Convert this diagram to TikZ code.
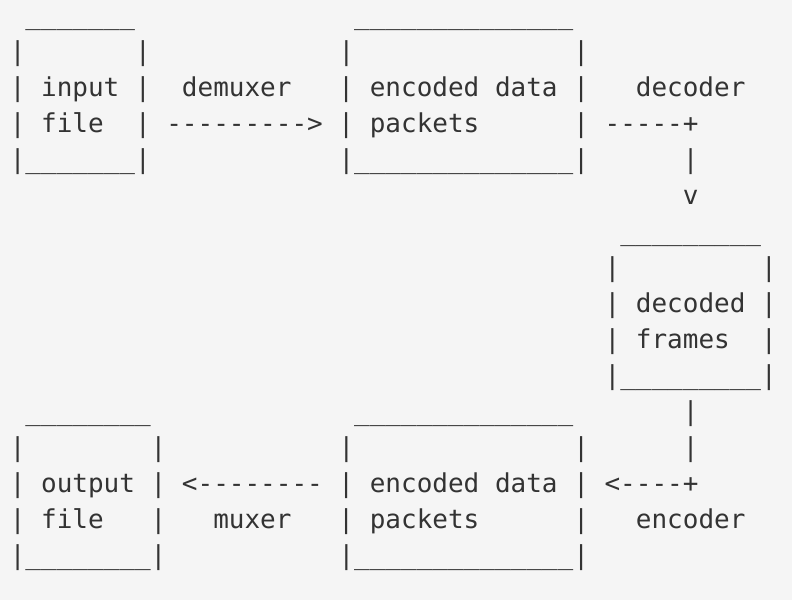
\documentclass[tikz,border=0pt]{standalone}
\usepackage{fontspec}
\newfontfamily\monofont{DejaVu Sans Mono}
\definecolor{bg}{HTML}{F5F5F5}
\definecolor{ink}{HTML}{333333}
\newcommand\sk[1]{\hspace*{#1\fontcharwd\font`x}}
\newcommand\us[1]{\foreach\i in {1,...,#1}{\_}}
\newcommand\dsh[1]{\foreach\i in {1,...,#1}{-}}
\tikzset{
  asciiline/.style={anchor=base west, inner sep=0pt, outer sep=0pt, text=ink,
    font=\monofont\fontsize{26pt}{36pt}\selectfont}
}
\begin{document}
\begin{tikzpicture}
\fill[bg] (0pt,0pt) rectangle (792pt,-600pt);
\useasboundingbox (0pt,0pt) rectangle (792pt,-600pt);
\node[asciiline] (l0)  at (9.8pt,-24pt)  {\sk{1}\us{7}\sk{14}\us{14}};
\node[asciiline] (l1)  at (9.8pt,-60pt)  {|\sk{7}|\sk{12}|\sk{14}|};
\node[asciiline] (l2)  at (9.8pt,-96pt)  {|~input~|~~demuxer~~~|~encoded~data~|~~~decoder};
\node[asciiline] (l3)  at (9.8pt,-132pt) {|~file~~|~\dsh{9}>~|~packets\sk{6}|~\dsh{5}+};
\node[asciiline] (l4)  at (9.8pt,-168pt) {|\us{7}|\sk{12}|\us{14}|\sk{6}|};
\node[asciiline] (l5)  at (9.8pt,-204pt) {\sk{43}v};
\node[asciiline] (l6)  at (9.8pt,-240pt) {\sk{39}\us{9}};
\node[asciiline] (l7)  at (9.8pt,-276pt) {\sk{38}|\sk{9}|};
\node[asciiline] (l8)  at (9.8pt,-312pt) {\sk{38}|~decoded~|};
\node[asciiline] (l9)  at (9.8pt,-348pt) {\sk{38}|~frames~~|};
\node[asciiline] (l10) at (9.8pt,-384pt) {\sk{38}|\us{9}|};
\node[asciiline] (l11) at (9.8pt,-420pt) {\sk{1}\us{8}\sk{13}\us{14}\sk{7}|};
\node[asciiline] (l12) at (9.8pt,-456pt) {|\sk{8}|\sk{11}|\sk{14}|\sk{6}|};
\node[asciiline] (l13) at (9.8pt,-492pt) {|~output~|~<\dsh{8}~|~encoded~data~|~<\dsh{4}+};
\node[asciiline] (l14) at (9.8pt,-528pt) {|~file~~~|~~~muxer~~~|~packets\sk{6}|~~~encoder};
\node[asciiline] (l15) at (9.8pt,-564pt) {|\us{8}|\sk{11}|\us{14}|};
\end{tikzpicture}
\end{document}
